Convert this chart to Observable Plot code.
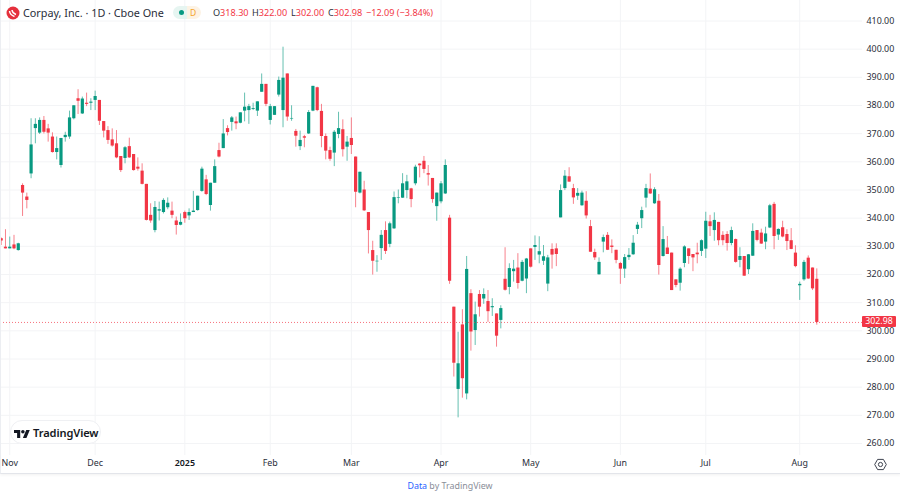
<!DOCTYPE html>
<html><head><meta charset="utf-8">
<script src="https://cdn.jsdelivr.net/npm/d3@7"></script>
<script src="https://cdn.jsdelivr.net/npm/@observablehq/plot@0.6"></script>
<style>
html,body{margin:0;padding:0;background:#fff;width:900px;height:498px;overflow:hidden;font-family:"Noto Sans",sans-serif}
#wrap{position:relative;width:900px;height:498px}
#card{position:absolute;left:0;top:0;width:899px;height:473px;border-right:1px solid #eceef2;border-left:1px solid #eceef2;border-bottom:1px solid #e3e5ea;box-shadow:0 1px 3px rgba(0,0,0,.06);pointer-events:none;box-sizing:content-box}
#head{position:absolute;left:0;top:0;height:26px;width:620px;color:#131722}
#head>*{position:absolute;white-space:nowrap}
.g{color:#2a2e39}.r{color:#f23645}
#logo{position:absolute;left:10px;top:420px;width:91px;height:24px;background:#fff;border:1px solid #eff0f3;border-radius:12px;box-sizing:border-box}
#logo svg{position:absolute;left:3px;top:6.5px}
#logo span{position:absolute;left:22px;top:3.5px;font:600 11.1px "Noto Sans",sans-serif;color:#131722;letter-spacing:-.1px}
#tag{position:absolute;left:862px;width:34px;height:11px;background:#f23645;color:#fff;font-size:8.8px;line-height:11px;text-align:center;border-radius:1px}
#foot{position:absolute;left:0;width:900px;top:480px;text-align:center;font-size:8.9px;line-height:12px;color:#8a8e99}
#foot b{font-weight:400;color:#2962ff}
#gear{position:absolute;left:874px;top:458px}
svg.plot,figure svg{display:block}
</style></head><body>
<div id="wrap">
<div id="chart"></div>
<div id="card"></div>
<div id="head"></div>
<div id="logo"><svg width="16" height="11" viewBox="0 0 36 24"><path d="M14 22H7V11H0V4h14v18zM28 22h-8l7.5-18h8L28 22z" fill="#131722"/><circle cx="20" cy="8" r="4" fill="#131722"/></svg><span>TradingView</span></div>
<svg id="gear" width="13" height="13" viewBox="0 0 13 13"><path d="M3.6 1.4h5.8l2.9 5.1-2.9 5.1H3.6L.7 6.500z" fill="none" stroke="#3f4450" stroke-width="1"/><circle cx="6.500" cy="6.500" r="2.100" fill="none" stroke="#3f4450" stroke-width="1"/></svg>
<div id="foot"><b>Data</b> by TradingView</div>
</div>
<script>
const opens=[332.7,329.7,329.1,330.5,328.5,351.6,347.5,355.7,371.8,370.2,374.7,371.7,368.8,363.3,358.7,368.6,368.8,375.3,382.4,377.0,380.8,380.8,381.8,381.8,374.3,371.1,367.8,366.4,361.9,361.2,365.4,362.6,358.1,356.7,352.0,341.0,335.6,342.5,342.0,343.7,342.5,339.0,337.5,342.0,340.8,342.0,342.7,349.5,353.6,344.5,352.4,364.0,364.7,371.8,374.0,374.2,373.7,378.0,378.2,378.6,378.0,384.7,387.5,374.7,376.5,383.7,378.2,391.2,375.2,370.8,365.4,
368.9,369.9,378.0,386.3,377.9,369.0,364.0,363.1,369.7,371.4,365.2,368.3,361.7,348.9,350.0,342.0,328.5,324.5,329.2,335.6,330.7,336.2,347.1,347.1,349.8,350.4,352.2,359.2,360.2,355.8,354.1,344.1,345.8,348.6,340.0,308.4,279.2,302.1,277.6,313.2,300.1,312.9,311.3,310.4,308.2,306.0,303.7,318.3,315.4,321.0,322.3,317.6,318.4,329.1,329.6,326.9,324.7,316.6,328.9,329.1,340.1,350.5,354.7,350.5,347.8,344.4,346.0,337.0,327.8,319.9,331.5,333.9,330.1,328.6,323.9,321.9,326.0,327.0,336.0,339.8,347.1,350.3,345.1,346.0,326.4,329.4,327.6,318.1,316.9,323.9,329.1,327.1,327.6,328.2,329.0,338.7,335.6,338.5,333.9,334.2,331.0,332.4,325.0,326.4,321.7,326.5,335.6,334.7,331.5,336.5,344.9,334.0,336.6,334.2,332.0,327.6,316.0,318.1,325.8,322.3,318.3];
const closes=[331.9,329.1,329.7,329.1,330.9,348.9,346.3,366.0,373.3,374.7,370.5,370.2,363.3,364.7,368.3,369.4,375.6,379.9,381.5,382.3,380.4,381.2,383.2,374.4,370.9,367.6,365.6,361.4,356.9,365.0,361.4,356.9,357.4,352.0,339.2,339.0,343.8,343.0,346.3,345.3,341.0,337.4,338.5,339.8,342.0,342.5,347.8,357.4,348.4,352.4,358.3,361.7,369.9,370.4,375.6,373.5,377.4,379.4,379.6,378.9,381.3,387.5,380.4,379.6,379.6,388.9,389.7,375.9,375.4,369.1,367.6,
368.4,377.5,386.8,378.2,369.0,363.8,360.9,370.5,371.8,364.3,367.0,365.8,349.2,356.3,342.6,335.6,324.7,324.7,333.9,328.2,338.0,347.3,347.3,352.2,352.9,346.6,358.1,358.6,357.3,355.3,346.6,348.9,352.2,358.7,317.6,288.5,288.3,283.0,321.8,299.6,305.7,308.4,312.9,306.8,308.6,298.1,307.9,314.4,322.1,321.9,316.8,324.3,325.5,322.6,330.3,328.1,326.3,325.9,326.9,327.1,349.8,354.9,352.8,347.2,348.8,348.9,340.8,327.9,325.9,324.3,333.1,328.6,329.6,325.0,321.9,326.0,326.8,331.1,337.5,342.7,350.5,348.6,350.1,323.2,332.4,327.1,314.3,316.1,321.9,329.8,326.4,325.9,327.0,332.0,338.9,337.0,339.2,332.0,332.0,331.0,335.6,324.3,326.4,319.4,327.0,335.3,332.1,330.8,334.4,344.4,333.5,336.0,333.3,331.7,328.9,322.8,316.5,324.3,318.4,314.9,302.98];
const highs=[333.0,335.9,333.3,333.9,331.1,352.2,348.9,375.3,375.3,375.6,376.1,373.3,370.3,368.8,368.3,370.5,378.0,379.9,385.6,383.0,384.4,382.4,385.1,381.8,374.3,372.5,371.7,371.1,361.9,365.4,368.4,362.6,361.4,359.3,352.0,345.1,345.9,345.7,346.9,347.2,345.7,340.4,341.5,342.5,343.3,349.5,347.8,358.1,355.2,352.4,360.7,366.6,375.0,372.8,376.1,375.9,377.4,384.4,380.4,380.8,381.3,391.2,387.5,380.4,379.6,390.1,400.7,391.2,379.9,371.5,370.9,
369.4,378.2,386.8,386.5,380.4,369.9,365.2,371.1,377.6,374.9,369.0,375.6,361.7,356.3,353.1,342.0,331.8,326.7,335.6,338.7,338.6,349.3,350.0,355.8,355.2,350.6,358.8,359.3,361.9,358.7,354.1,348.9,353.0,360.7,341.0,308.4,299.5,307.5,326.4,314.6,310.2,314.3,314.9,314.3,311.4,306.0,308.9,329.5,323.8,325.0,327.4,325.0,325.7,329.1,333.7,333.4,330.3,326.8,330.9,330.9,351.8,356.9,357.9,352.0,350.5,349.6,349.4,339.2,329.0,325.9,334.0,334.9,332.3,328.6,324.3,327.1,329.2,333.8,338.5,343.9,352.0,355.7,350.8,348.4,337.0,333.5,327.6,318.1,322.4,330.2,329.1,327.1,331.1,332.3,342.1,341.0,341.9,338.5,335.2,335.2,336.8,332.6,329.5,326.4,327.1,338.0,335.6,336.1,336.8,344.9,345.6,336.2,338.9,335.9,336.3,330.2,317.3,325.0,326.6,322.3,322.0];
const lows=[330.3,329.1,329.1,328.8,328.3,340.6,343.3,354.0,366.4,369.7,369.9,367.0,363.1,360.7,357.8,367.0,368.0,374.9,376.8,376.8,379.6,378.2,378.2,372.9,368.5,366.2,365.2,361.1,356.2,359.3,361.2,356.7,356.7,351.8,339.0,338.2,334.8,339.0,341.5,343.0,339.8,334.0,337.3,338.2,339.2,342.0,342.5,349.2,348.0,342.5,352.4,361.4,364.7,369.2,370.9,371.4,373.5,374.2,373.3,378.2,376.1,384.7,379.6,373.1,376.5,383.0,372.1,374.4,374.4,365.2,364.0,
365.0,369.7,377.8,377.8,365.0,360.7,360.2,358.3,368.2,361.7,360.2,362.6,343.7,348.6,342.4,327.3,319.8,320.8,325.0,327.1,329.5,336.0,345.1,347.0,346.9,343.7,351.5,354.3,355.8,351.4,345.3,338.9,345.1,348.4,316.5,283.6,269.1,276.1,275.5,292.8,294.8,304.9,309.4,303.0,305.1,294.2,300.7,314.1,312.8,317.3,314.8,317.4,313.2,322.3,325.0,323.8,323.2,313.9,321.9,322.8,340.1,349.8,352.7,344.9,346.3,344.2,339.7,327.9,325.0,319.8,327.7,328.5,327.4,323.8,316.5,318.6,325.0,326.8,334.2,336.3,343.6,348.4,344.9,319.8,326.2,327.1,314.3,315.3,314.1,322.4,323.6,321.0,323.8,326.4,325.7,333.5,331.8,330.2,330.2,328.3,330.2,324.0,322.4,319.4,320.0,326.4,331.6,330.7,328.8,336.3,328.8,332.1,333.0,328.5,328.8,322.4,310.8,317.6,318.2,314.3,302.0];
const priceTicks=[260,270,280,290,300,310,320,330,340,350,360,370,380,390,400,410];
const monthPos=[2,22,63,82,103,124,145,165,187];
const monthLabels=["Nov","Dec","Feb","Mar","Apr","May","Jun","Jul","Aug"];
const yearPos=[43];
const yearLabels=["2025"];
const allPos=[...monthPos,...yearPos];
const lastPrice=302.98;
const UP="#089981",DOWN="#f23645";
const FONT='"Noto Sans",sans-serif';

const candles=opens.map((o,i)=>({i,o,h:highs[i],l:lows[i],c:closes[i],col:closes[i]>=o?UP:DOWN}));

const chart=Plot.plot({
  width:900,height:498,marginTop:0,marginLeft:0,marginRight:38,marginBottom:43,
  style:{fontFamily:FONT,background:"transparent",overflow:"visible"},
  x:{type:"linear",domain:[0,191],range:[0.7,816.3],axis:null},
  y:{type:"linear",domain:[260,410],range:[443,20.5],axis:null},
  marks:[
    Plot.ruleY(priceTicks,{stroke:"#f3f4f6",strokeWidth:1,strokeOpacity:1}),
    Plot.ruleX(allPos,{stroke:"#f3f4f6",strokeWidth:1,strokeOpacity:1}),
    Plot.ruleX(candles,{x:"i",y1:"l",y2:"h",stroke:"col",strokeWidth:1,strokeOpacity:.62}),
    Plot.ruleX(candles,{x:"i",y1:"o",y2:"c",stroke:"col",strokeWidth:3.2}),
    Plot.ruleY([lastPrice],{stroke:DOWN,strokeWidth:1,strokeDasharray:"1,2",strokeOpacity:.7}),
    Plot.axisY(priceTicks,{anchor:"right",tickSize:0,tickPadding:4,fontSize:8.9,textAnchor:"start",tickFormat:d=>d.toFixed(2),label:null,fill:"#2a2e39"}),
    Plot.axisX(monthPos,{anchor:"bottom",tickSize:0,tickPadding:4,fontSize:8.9,fill:"#2a2e39",label:null,tickFormat:d=>monthLabels[monthPos.indexOf(d)]}),
    Plot.axisX(yearPos,{anchor:"bottom",tickSize:0,tickPadding:4,fontSize:8.9,fill:"#131722",fontWeight:600,label:null,tickFormat:d=>yearLabels[yearPos.indexOf(d)]})
  ]
});
document.getElementById("chart").appendChild(chart);

const tag=document.createElement("div");
tag.id="tag";tag.textContent=lastPrice.toFixed(2);
tag.style.top=(chart.scale("y").apply(lastPrice)-5.5)+"px";
document.getElementById("wrap").appendChild(tag);

document.getElementById("head").innerHTML=`
<svg style="left:6px;top:6px" width="14" height="14" viewBox="0 0 14 14"><circle cx="7" cy="7" r="6.500" fill="#e5303c"/><path d="M3.500 5Q4 9 8.500 10.500M6 4Q6.500 7.500 10 8.500" fill="none" stroke="#fff" stroke-width="1.500"/></svg>
<span style="left:23px;top:5px;font-size:10.8px;line-height:15px;color:#2a2e39">Corpay, Inc. · 1D · Cboe One</span>
<div style="left:173px;top:6px;width:14px;height:13px;background:#e6f5f1;border-radius:7px 0 0 7px"></div>
<div style="left:187px;top:6px;width:14px;height:13px;background:#fdf3e4;border-radius:0 7px 7px 0"></div>
<div style="left:178.500px;top:10px;width:5px;height:5px;background:#089981;border-radius:50%"></div>
<span style="left:190px;top:7px;font-size:8.500px;line-height:11px;color:#f5a32a">D</span>
<span style="left:213px;top:5.500px;font-size:9.100px;line-height:14px"><span class="g">O</span><span class="r">318.30</span></span>
<span style="left:252px;top:5.500px;font-size:9.100px;line-height:14px"><span class="g">H</span><span class="r">322.00</span></span>
<span style="left:291px;top:5.500px;font-size:9.100px;line-height:14px"><span class="g">L</span><span class="r">302.00</span></span>
<span style="left:328px;top:5.500px;font-size:9.100px;line-height:14px"><span class="g">C</span><span class="r">302.98</span></span>
<span style="left:366px;top:5.500px;font-size:9.100px;line-height:14px" class="r">−12.09 (−3.84%)</span>`;
</script>
</body></html>
